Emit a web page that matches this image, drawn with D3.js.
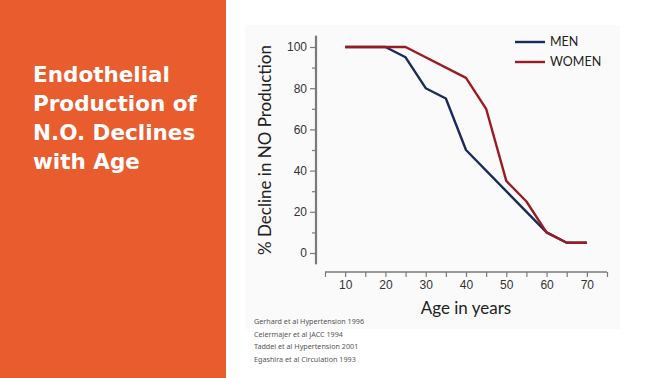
<!DOCTYPE html>
<html>
<head>
<meta charset="utf-8">
<script src="https://cdn.jsdelivr.net/npm/d3@7"></script>
<style>
  body { margin: 0; background: #fff; }
  svg { display: block; }
</style>
</head>
<body>
<div class="chart"></div>
<script>
// data
var ages = [10, 20, 25, 30, 35, 40, 45, 50, 55, 60, 65, 70];
var men = [100, 100, 95, 80, 75, 50, null, null, null, 10, 5, 5];
var women = [100, 100, 100, null, null, 85, 70, 35, 25, 10, 5, 5];
var xTicks = [10, 20, 30, 40, 50, 60, 70];
var yTicks = [0, 20, 40, 60, 80, 100];
var titleLines = ["Endothelial", "Production of", "N.O. Declines", "with Age"];
var refs = [
  "Gerhard et al Hypertension 1996",
  "Celermajer et al JACC 1994",
  "Taddei et al Hypertension 2001",
  "Egashira et al Circulation 1993"
];

var svgWidth = 672;
var svgHeight = 378;

var svg = d3.select(".chart")
  .append("svg")
  .attr("width", svgWidth)
  .attr("height", svgHeight);

// orange side panel + title
svg.append("rect")
  .attr("width", 226).attr("height", svgHeight)
  .attr("fill", "#e85c2e");

svg.append("text")
  .attr("x", 33).attr("y", 82)
  .attr("font-family", "'DejaVu Sans', sans-serif")
  .attr("font-size", "21.5px")
  .attr("font-weight", "bold")
  .attr("fill", "#fff")
  .selectAll("tspan")
  .data(titleLines)
  .enter()
  .append("tspan")
  .attr("x", 33)
  .attr("dy", (d, i) => i === 0 ? 0 : 29)
  .text(d => d);

// faint background of the pasted chart image
svg.append("rect")
  .attr("x", 245).attr("y", 25)
  .attr("width", 375).attr("height", 304)
  .attr("fill", "#fafafa");

// scales
var x = d3.scaleLinear().domain([5, 75]).range([325, 607]);
var y = d3.scaleLinear().domain([0, 100]).range([253, 47]);

var axisColor = "#7a7a7a";

// x axis
var xAxisG = svg.append("g")
  .attr("transform", "translate(0, 272)")
  .call(d3.axisBottom(x).tickValues(d3.range(5, 76, 5)).tickSize(5).tickSizeOuter(5)
    .tickFormat(d => xTicks.includes(d) ? d : ""));
xAxisG.select(".domain").attr("stroke", axisColor).attr("stroke-width", 1.5)
  .attr("d", "M" + x(5) + ",0H" + x(75));
xAxisG.selectAll(".tick line").attr("stroke", axisColor).attr("stroke-width", 1.2)
  .attr("y1", 0).attr("y2", 5);
xAxisG.selectAll(".tick text")
  .attr("y", 8)
  .attr("font-family", "'Liberation Sans', Arial, sans-serif")
  .attr("font-size", "12px")
  .attr("fill", "#333");

// y axis
var yAxisG = svg.append("g")
  .attr("transform", "translate(316, 0)")
  .call(d3.axisLeft(y).tickValues(d3.range(0, 101, 10)).tickSize(5).tickSizeOuter(0)
    .tickFormat(d => yTicks.includes(d) ? d : ""));
yAxisG.select(".domain").attr("stroke", axisColor).attr("stroke-width", 2.2)
  .attr("d", "M0," + y(105.5) + "V" + y(-5.5));
yAxisG.selectAll(".tick line").attr("stroke", axisColor).attr("stroke-width", 1.2)
  .attr("x2", d => yTicks.includes(d) ? -6 : -4);
yAxisG.selectAll(".tick text")
  .attr("x", -9)
  .attr("font-family", "'Liberation Sans', Arial, sans-serif")
  .attr("font-size", "12px")
  .attr("fill", "#333");

// axis titles
svg.append("text")
  .attr("transform", "translate(271, 150) rotate(-90)")
  .attr("text-anchor", "middle")
  .attr("font-family", "Lato, sans-serif")
  .attr("font-size", "17px")
  .attr("fill", "#222")
  .text("% Decline in NO Production");

svg.append("text")
  .attr("x", 466).attr("y", 314)
  .attr("text-anchor", "middle")
  .attr("font-family", "Lato, sans-serif")
  .attr("font-size", "17px")
  .attr("fill", "#222")
  .text("Age in years");

// lines
var series = [
  { name: "MEN", values: men, color: "#1b2a5c" },
  { name: "WOMEN", values: women, color: "#9b1b24" }
];

var line = d3.line()
  .x(d => x(d.a))
  .y(d => y(d.v));

series.forEach(function(s) {
  var pts = ages.map((a, i) => ({ a: a, v: s.values[i] })).filter(d => d.v !== null);
  svg.append("path")
    .datum(pts)
    .attr("d", line)
    .attr("fill", "none")
    .attr("stroke", s.color)
    .attr("stroke-width", 2.4)
    .attr("stroke-linejoin", "round");
});

// legend
var legend = svg.selectAll(".legend")
  .data(series)
  .enter()
  .append("g")
  .attr("class", "legend")
  .attr("transform", (d, i) => `translate(515, ${42 + i * 20})`);
legend.append("line")
  .attr("x1", 0).attr("x2", 30)
  .attr("stroke", d => d.color)
  .attr("stroke-width", 2.4);
legend.append("text")
  .attr("x", 35).attr("dy", "0.35em")
  .attr("font-family", "Lato, sans-serif")
  .attr("font-size", "12.5px")
  .attr("fill", "#222")
  .text(d => d.name);

// references
svg.append("g")
  .selectAll("text")
  .data(refs)
  .enter()
  .append("text")
  .attr("x", 254)
  .attr("y", (d, i) => 324 + i * 12.5)
  .attr("font-family", "'Noto Sans', sans-serif")
  .attr("font-size", "7.2px")
  .attr("fill", "#555")
  .text(d => d);
</script>
</body>
</html>
